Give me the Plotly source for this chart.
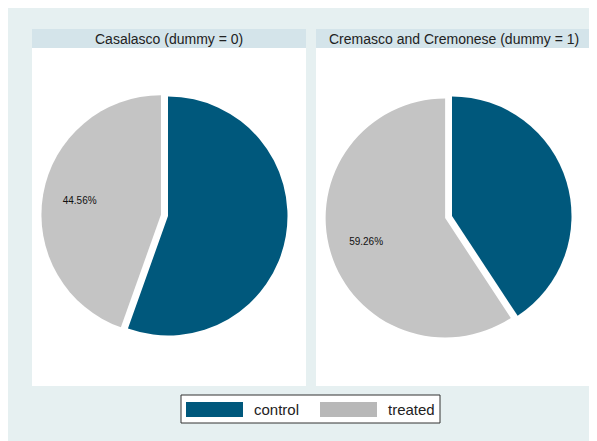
"""Pie charts of control vs treated shares by area"""

import plotly.graph_objects as go

# data
groups = ["Casalasco (dummy = 0)", "Cremasco and Cremonese (dummy = 1)"]
categories = ["control", "treated"]
shares_casalasco = [55.44, 44.56]
shares_cremasco = [40.74, 59.26]

W, H = 597, 441
OFF = 8  # page body margin, positions below are screen pixels
BLUE = "#00587c"
GREY = "#c4c4c4"
BG = "#e6f0f1"
BAND = "#d4e4ea"
PULL = 0.06


def px(x):
    return (x - OFF) / W


def py(y):
    return 1 - (y - OFF) / H


def pie_domain(cx, cy, r):
    # plotly sizes pie radius as min(box)/(2 + 2*pull)
    half = r * (1 + PULL)
    return dict(x=[px(cx - half), px(cx + half)], y=[py(cy + half), py(cy - half)])


fig = go.Figure()

panels = [(32, 306), (316, 591)]
pie_centres = [(168, 216), (452, 216)]

for (x0, x1), (cx, cy), title, shares in zip(
        panels, pie_centres, groups, [shares_casalasco, shares_cremasco]):
    # white panel and title band
    fig.add_shape(type="rect", xref="paper", yref="paper", layer="below",
                  x0=px(x0), x1=px(x1), y0=py(386), y1=py(48),
                  fillcolor="white", line_width=0)
    fig.add_shape(type="rect", xref="paper", yref="paper", layer="below",
                  x0=px(x0), x1=px(x1), y0=py(48), y1=py(29),
                  fillcolor=BAND, line_width=0)
    fig.add_annotation(x=px((x0 + x1) / 2), y=py(38.5), xref="paper", yref="paper",
                       text=title, showarrow=False,
                       xanchor="center", yanchor="middle",
                       font=dict(size=14, color="#222"))

    dom = pie_domain(cx, cy, 119.5)
    fig.add_trace(go.Pie(
        labels=categories,
        values=shares,
        sort=False,
        direction="clockwise",
        rotation=0,
        pull=[0, PULL],
        marker=dict(colors=[BLUE, GREY], line=dict(width=0)),
        textinfo="none",
        hoverinfo="label+percent",
        showlegend=False,
        domain=dom,
    ))
    # transparent ring on top, only to carry the percent label further out
    fig.add_trace(go.Pie(
        labels=categories,
        values=shares,
        sort=False,
        direction="clockwise",
        rotation=0,
        pull=[0, PULL],
        hole=0.38,
        marker=dict(colors=["rgba(0,0,0,0)"] * 2, line=dict(width=0)),
        texttemplate=["", "%{percent:.2%}"],
        textposition="inside",
        insidetextorientation="horizontal",
        textfont=dict(size=10, color="#111"),
        hoverinfo="skip",
        showlegend=False,
        domain=dom,
    ))

# legend box drawn by hand to get the wide swatches
fig.add_shape(type="rect", xref="paper", yref="paper",
              x0=px(181), x1=px(440), y0=py(423), y1=py(395),
              fillcolor="white", line=dict(color="#333", width=1))
for (s0, s1, tx), name, col in zip([(186, 243, 252), (320, 377, 386)],
                                    categories, [BLUE, "#b8b8b8"]):
    fig.add_shape(type="rect", xref="paper", yref="paper",
                  x0=px(s0), x1=px(s1), y0=py(417), y1=py(402),
                  fillcolor=col, line_width=0)
    fig.add_annotation(x=px(tx), y=py(409.5), xref="paper", yref="paper",
                       text=name, showarrow=False,
                       xanchor="left", yanchor="middle",
                       font=dict(size=15, color="#222"))

fig.update_layout(
    width=W, height=H,
    margin=dict(l=0, r=0, t=0, b=0),
    paper_bgcolor=BG,
    plot_bgcolor=BG,
    font=dict(family="Liberation Sans, Arial, sans-serif"),
)

fig.write_html("out.html")
